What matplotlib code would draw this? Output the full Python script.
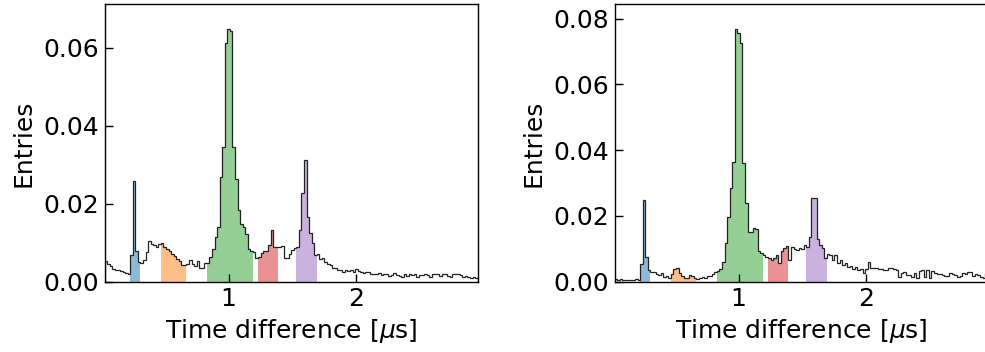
import numpy as np
import matplotlib
matplotlib.use("Agg")
import matplotlib.pyplot as plt

# Histogram binning (microseconds)
t_start = 0.03
bin_width = 0.02

# Normalised entries per bin, left panel
entries_left = [
    0.0054, 0.0046, 0.0040, 0.0033, 0.0030, 0.0030, 0.0027, 0.0026, 0.0023, 0.0019,
    0.0068, 0.0259, 0.0080, 0.0050,
    0.0047, 0.0056, 0.0077, 0.0104, 0.0096, 0.0094, 0.0090, 0.0098,
    0.0099, 0.0090, 0.0083, 0.0080, 0.0072, 0.0066, 0.0058, 0.0052, 0.0044, 0.0044,
    0.0045, 0.0055, 0.0046, 0.0040, 0.0052, 0.0036, 0.0034, 0.0048,
    0.0048, 0.0064, 0.0085, 0.0115, 0.0141, 0.0269, 0.0346, 0.0613, 0.0648, 0.0644,
    0.0346, 0.0263, 0.0185, 0.0148, 0.0140, 0.0122, 0.0083, 0.0078,
    0.0075, 0.0060,
    0.0064, 0.0074, 0.0080, 0.0080, 0.0095, 0.0132, 0.0090, 0.0088,
    0.0090, 0.0092, 0.0062, 0.0060, 0.0072, 0.0082, 0.0086,
    0.0088, 0.0133, 0.0228, 0.0312, 0.0165, 0.0125, 0.0100, 0.0068,
    0.0072, 0.0058, 0.0060, 0.0050, 0.0045, 0.0042, 0.0036, 0.0034, 0.0030, 0.0030,
    0.0026, 0.0030, 0.0027, 0.0031, 0.0024,
    0.0032, 0.0027, 0.0026, 0.0022, 0.0024, 0.0024, 0.0019, 0.0021, 0.0021, 0.0023,
    0.0017, 0.0021, 0.0019, 0.0015, 0.0017, 0.0023, 0.0017, 0.0014, 0.0013, 0.0019,
    0.0015, 0.0021, 0.0017, 0.0019, 0.0013, 0.0017, 0.0017, 0.0021, 0.0017, 0.0013,
    0.0019, 0.0021, 0.0021, 0.0015, 0.0019, 0.0021, 0.0015, 0.0013, 0.0019, 0.0021,
    0.0019, 0.0017, 0.0013, 0.0015, 0.0012, 0.0010, 0.0012, 0.0009,
]

# Normalised entries per bin, right panel
entries_right = [
    0.0008, 0.0005, 0.0007, 0.0004, 0.0005, 0.0006, 0.0004, 0.0005, 0.0007, 0.0005,
    0.0055, 0.0249, 0.0076, 0.0035,
    0.0030, 0.0030, 0.0024, 0.0020, 0.0027, 0.0014, 0.0018, 0.0012,
    0.0022, 0.0040, 0.0041, 0.0025, 0.0016, 0.0012, 0.0010, 0.0019, 0.0018, 0.0012,
    0.0008, 0.0010, 0.0013, 0.0011, 0.0018, 0.0016, 0.0024, 0.0030,
    0.0032, 0.0040, 0.0061, 0.0117, 0.0198, 0.0284, 0.0365, 0.0768, 0.0756, 0.0726,
    0.0360, 0.0240, 0.0152, 0.0150, 0.0162, 0.0160, 0.0092, 0.0088,
    0.0082, 0.0076,
    0.0072, 0.0067, 0.0071, 0.0080, 0.0057, 0.0094, 0.0102, 0.0108,
    0.0066, 0.0107, 0.0100, 0.0096, 0.0104, 0.0098, 0.0112,
    0.0107, 0.0135, 0.0254, 0.0254, 0.0130, 0.0112, 0.0102, 0.0072,
    0.0085, 0.0080, 0.0066, 0.0080, 0.0058, 0.0066, 0.0052, 0.0056, 0.0045, 0.0048,
    0.0040, 0.0044, 0.0036, 0.0038, 0.0026, 0.0040, 0.0060,
    0.0041, 0.0042, 0.0041, 0.0039, 0.0038, 0.0035, 0.0036, 0.0041, 0.0042, 0.0040,
    0.0035, 0.0015, 0.0025, 0.0030, 0.0020, 0.0021, 0.0015, 0.0026, 0.0011, 0.0033,
    0.0035, 0.0015, 0.0035, 0.0012, 0.0032, 0.0026, 0.0024, 0.0022, 0.0020, 0.0018,
    0.0018, 0.0026, 0.0022, 0.0020, 0.0015, 0.0016, 0.0026, 0.0022, 0.0028, 0.0030,
    0.0018, 0.0022, 0.0019, 0.0015, 0.0012, 0.0026,
]

# Time windows highlighted under the spectrum
windows = [(0.23, 0.31), (0.47, 0.67), (0.83, 1.19), (1.23, 1.39), (1.53, 1.69)]
window_colors = ["tab:blue", "tab:orange", "tab:green", "tab:red", "tab:purple"]

x_label = r"Time difference [$\mu$s]"
y_label = "Entries"

plt.rcParams["font.family"] = ["DejaVu Sans"]

fig = plt.figure(figsize=(9.85, 3.52), dpi=100)
positions = [
    [104.7 / 985, 70.3 / 352, 373 / 985, 277.7 / 352],
    [614.7 / 985, 70.3 / 352, 373 / 985, 277.7 / 352],
]

for pos, entries in zip(positions, [entries_left, entries_right]):
    counts = np.asarray(entries)
    edges = t_start + bin_width * np.arange(len(counts) + 1)
    centers = 0.5 * (edges[:-1] + edges[1:])

    ax = fig.add_axes(pos)
    for (lo, hi), col in zip(windows, window_colors):
        idx = np.where((centers > lo) & (centers < hi))[0]
        ax.stairs(counts[idx], edges[idx[0]:idx[-1] + 2], fill=True,
                  color=col, alpha=0.5, lw=0)
    ax.stairs(counts, edges, color="#222222", lw=0.9)

    ax.set_xlim(edges[0], edges[-1])
    ax.set_ylim(0, 1.1 * counts.max())
    ax.set_xticks([1, 2])
    ax.tick_params(direction="in", length=6, width=1, labelsize=18,
                   top=False, right=False, pad=4)
    for s in ax.spines.values():
        s.set_linewidth(1)
    ax.set_xlabel(x_label, fontsize=18, labelpad=4)
    ax.set_ylabel(y_label, fontsize=18, labelpad=6)

fig.savefig("out.png", dpi=100)
